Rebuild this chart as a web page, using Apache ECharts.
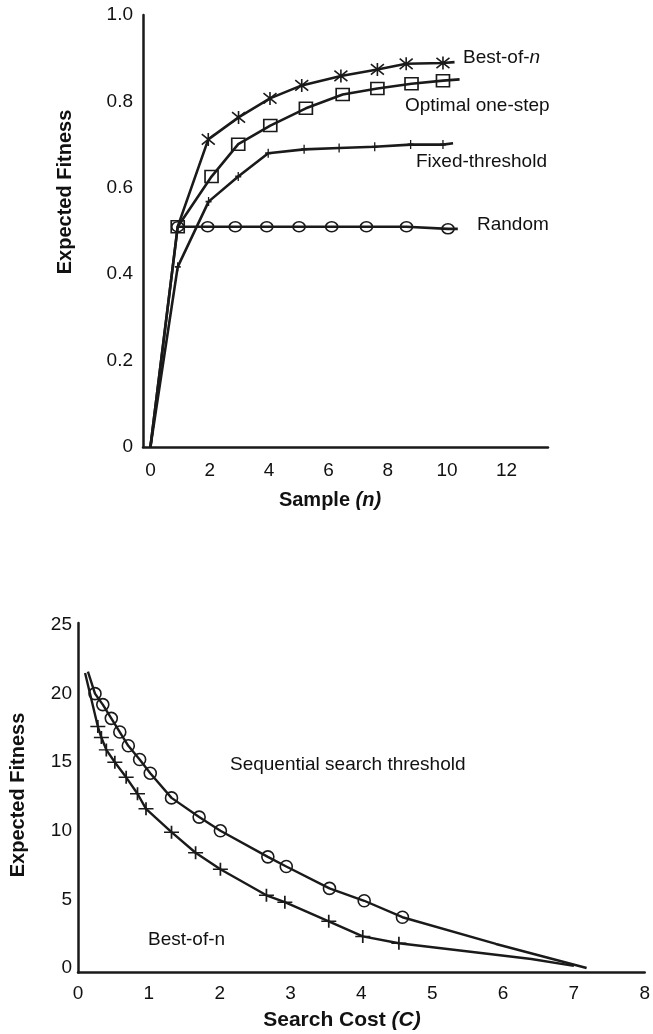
<!DOCTYPE html>
<html style="height: 100%;">
  <head>
    <meta charset="utf-8" />
  </head>
  <body style="height: 100%; margin: 0; background: #fff;">
    <div id="container" style="width: 653px; height: 1034px;"></div>
    <script src="https://cdn.jsdelivr.net/npm/echarts@6/dist/echarts.min.js"></script>
    <script type="text/javascript">
      // top panel: expected fitness vs sample size n
      var sampleTicks = [0, 2, 4, 6, 8, 10, 12];
      var bestTopX = [0, 0.92, 1.95, 2.97, 4.03, 5.1, 6.42, 7.65, 8.62, 9.86, 10.25];
      var bestTopY = [0, 0.51, 0.712, 0.763, 0.807, 0.837, 0.859, 0.874, 0.887, 0.889, 0.891];
      var optimalX = [0, 0.92, 2.06, 2.96, 4.04, 5.24, 6.48, 7.65, 8.8, 9.86, 10.42];
      var optimalY = [0, 0.51, 0.626, 0.701, 0.744, 0.784, 0.816, 0.83, 0.841, 0.848, 0.851];
      var fixedX = [0, 0.92, 1.96, 2.96, 3.97, 5.18, 6.36, 7.56, 8.77, 9.86, 10.2];
      var fixedY = [0, 0.417, 0.568, 0.626, 0.68, 0.689, 0.692, 0.695, 0.7, 0.7, 0.703];
      var randomX = [0.92, 1.93, 2.86, 3.92, 5.01, 6.11, 7.28, 8.63, 10.03, 10.36];
      var randomY = [0.51, 0.51, 0.51, 0.51, 0.51, 0.51, 0.51, 0.51, 0.505, 0.505];

      // bottom panel: expected fitness vs search cost C
      var fitnessTicks = [0, 5, 10, 15, 20, 25];
      var seqX = [0.14, 0.24, 0.35, 0.47, 0.59, 0.71, 0.87, 1.02, 1.32, 1.71, 2.01, 2.68, 2.94, 3.55, 4.04, 4.58, 5.9, 7.18];
      var seqY = [21.6, 20.0, 19.2, 18.2, 17.2, 16.2, 15.2, 14.2, 12.4, 11.0, 10.0, 8.1, 7.4, 5.8, 4.9, 3.7, 1.75, 0.0];
      var bestBotX = [0.1, 0.28, 0.33, 0.4, 0.52, 0.68, 0.84, 0.96, 1.32, 1.66, 2.01, 2.66, 2.92, 3.54, 4.02, 4.53, 5.6, 6.4, 7.0];
      var bestBotY = [21.5, 17.6, 16.8, 15.9, 15.0, 13.9, 12.7, 11.6, 9.9, 8.4, 7.2, 5.3, 4.8, 3.4, 2.3, 1.8, 1.15, 0.65, 0.15];

      var ink = "#1a1a1a";
      var font = "'Liberation Sans', Arial, sans-serif";

      // points outside [from, to] are drawn without a marker
      function pts(xs, ys, from, to) {
        return xs.map(function (x, i) {
          var p = { value: [x, ys[i]] };
          if (i < from || i > to) p.symbol = "none";
          return p;
        });
      }

      var plusPath = "path://M0,5L10,5M5,0L5,10";
      var starPath = "path://M1,1L9,9M9,1L1,9M5,0L5,10";
      var boxPath = "path://M0,0L10,0L10,10L0,10Z";

      function lineSeries(name, grid, data, symbol, size, width) {
        return {
          name: name,
          type: "line",
          xAxisIndex: grid,
          yAxisIndex: grid,
          data: data,
          symbol: symbol,
          symbolSize: size,
          symbolKeepAspect: false,
          lineStyle: { color: ink, width: width },
          itemStyle: { color: "rgba(0,0,0,0)", borderColor: ink, borderWidth: 1.6 },
          emphasis: { disabled: true },
        };
      }

      function axisBase(grid) {
        return {
          gridIndex: grid,
          type: "value",
          axisLine: { show: true, onZero: false, lineStyle: { color: ink, width: 2.5 } },
          axisTick: { show: false },
          splitLine: { show: false },
          axisLabel: { fontSize: 19, color: "#111", fontFamily: font },
        };
      }

      var xTop = axisBase(0);
      xTop.min = -0.25;
      xTop.max = 13.4;
      xTop.axisLabel.customValues = sampleTicks;
      xTop.axisLabel.margin = 14;

      var yTop = axisBase(0);
      yTop.min = 0;
      yTop.max = 1;
      yTop.interval = 0.2;
      yTop.axisLabel.margin = 10;
      yTop.axisLabel.formatter = function (v) {
        return v === 0 ? "0" : v.toFixed(1);
      };

      var xBot = axisBase(1);
      xBot.min = 0;
      xBot.max = 8;
      xBot.interval = 1;
      xBot.axisLabel.margin = 12;

      var yBot = axisBase(1);
      yBot.min = -0.33;
      yBot.max = 25.15;
      yBot.axisLabel.customValues = fitnessTicks;
      yBot.axisLabel.margin = 6;

      function label(text, x, y, opts) {
        opts = opts || {};
        return {
          type: "text",
          x: x,
          y: y,
          rotation: opts.rotation || 0,
          silent: true,
          style: {
            text: text,
            fill: "#111",
            font: opts.font || "19px " + font,
            textAlign: opts.align || "left",
            textVerticalAlign: "middle",
            rich: opts.rich,
          },
        };
      }

      var richTag = {
        r: { fontSize: 19, fontFamily: font, fill: "#111" },
        i: { fontSize: 19, fontFamily: font, fontStyle: "italic", fill: "#111" },
      };

      var myChart = echarts.init(document.getElementById("container"));
      var option = {
        animation: false,
        backgroundColor: "#fff",
        grid: [
          { left: 143, right: 105, top: 15, height: 432 },
          { left: 78, right: 8, top: 623, height: 349.5 },
        ],
        xAxis: [xTop, xBot],
        yAxis: [yTop, yBot],
        series: [
          lineSeries("Best-of-n", 0, pts(bestTopX, bestTopY, 2, 9), starPath, 13, 2.6),
          lineSeries("Optimal one-step", 0, pts(optimalX, optimalY, 1, 9), boxPath, [13, 12], 2.6),
          lineSeries("Fixed-threshold", 0, pts(fixedX, fixedY, 1, 9), plusPath, [6, 9], 2.6),
          lineSeries("Random", 0, pts(randomX, randomY, 0, 8), "circle", [12, 10], 2.6),
          lineSeries("Sequential search threshold", 1, pts(seqX, seqY, 1, 15), "circle", 12, 2.4),
          lineSeries("Best-of-n", 1, pts(bestBotX, bestBotY, 1, 15), plusPath, [15, 13], 2.4),
        ],
        graphic: [
          label("Expected Fitness", 65, 192, { rotation: Math.PI / 2, align: "center", font: "bold 20px " + font }),
          label("{b|Sample }{bi|(n)}", 330, 500, {
            align: "center",
            rich: {
              b: { fontSize: 20, fontWeight: "bold", fontFamily: font, fill: "#111" },
              bi: { fontSize: 20, fontWeight: "bold", fontStyle: "italic", fontFamily: font, fill: "#111" },
            },
          }),
          label("{r|Best-of-}{i|n}", 463, 58, { rich: richTag }),
          label("Optimal one-step", 405, 106),
          label("Fixed-threshold", 416, 162),
          label("Random", 477, 225),
          label("Expected Fitness", 18, 795, { rotation: Math.PI / 2, align: "center", font: "bold 20px " + font }),
          label("{b|Search Cost }{bi|(C)}", 342, 1020, {
            align: "center",
            rich: {
              b: { fontSize: 21, fontWeight: "bold", fontFamily: font, fill: "#111" },
              bi: { fontSize: 21, fontWeight: "bold", fontStyle: "italic", fontFamily: font, fill: "#111" },
            },
          }),
          label("Sequential search threshold", 230, 765),
          label("Best-of-n", 148, 940),
        ],
      };

      myChart.setOption(option);
    </script>
  </body>
</html>
